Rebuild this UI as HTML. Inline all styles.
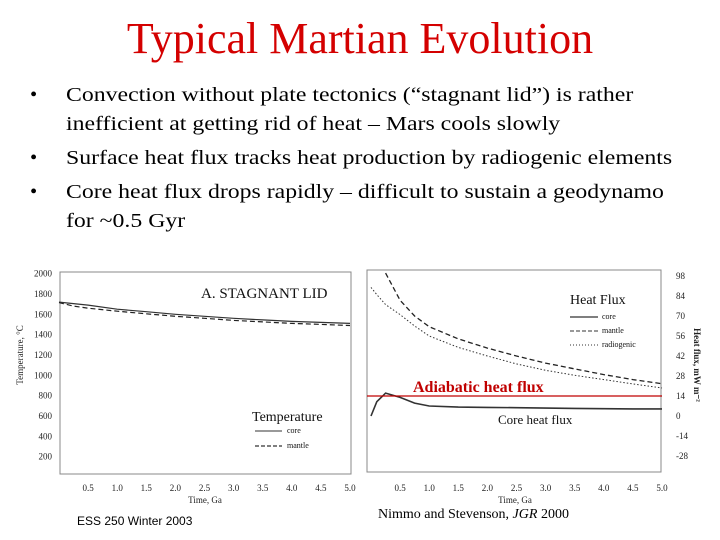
<!DOCTYPE html>
<html><head><meta charset="utf-8"><style>
body{margin:0;width:720px;height:540px;background:#fff;overflow:hidden;position:relative;font-family:"Liberation Serif",serif}
.t{position:absolute;white-space:nowrap}
#title{left:0;width:720px;text-align:center;top:13px;font-size:44px;color:#d40000}
.b{position:absolute;left:30px;font-size:20.5px;color:#000;white-space:nowrap}
.b span.d{position:absolute;left:0}
.b span.x{position:absolute;left:36px;transform:scaleX(1.16);transform-origin:0 0}
svg{position:absolute;left:0;top:0}
</style></head><body>
<div id="title" class="t">Typical Martian Evolution</div>
<div class="b" style="top:84px"><span class="d">•</span><span class="x">Convection without plate tectonics (“stagnant lid”) is rather</span></div>
<div class="b" style="top:113px"><span class="x">inefficient at getting rid of heat – Mars cools slowly</span></div>
<div class="b" style="top:147px"><span class="d">•</span><span class="x">Surface heat flux tracks heat production by radiogenic elements</span></div>
<div class="b" style="top:181px"><span class="d">•</span><span class="x">Core heat flux drops rapidly – difficult to sustain a geodynamo</span></div>
<div class="b" style="top:210px"><span class="x">for ~0.5 Gyr</span></div>
<svg id="s" width="720" height="540"></svg>
<div class="t" style="left:77px;top:514px;font-family:'Liberation Sans',sans-serif;font-size:12px">ESS 250 Winter 2003</div>
<div class="t" style="left:378px;top:507px;font-size:14px">Nimmo and Stevenson, <i>JGR</i> 2000</div>
<script>
const times=[0,0.25,0.5,1,1.5,2,2.5,3,3.5,4,4.5,5];
const coreTemp=[1720,1705,1690,1650,1625,1600,1580,1560,1545,1530,1520,1510];
const mantleTemp=[1715,1680,1660,1630,1605,1580,1560,1540,1525,1510,1500,1490];
const fluxTimes=[0,0.1,0.25,0.5,0.75,1,1.5,2,2.5,3,3.5,4,4.5,5];
const coreFlux=[0,10,16,13,9,7,6.2,6,5.8,5.5,5.3,5.1,5,5];
const mantleFlux=[null,null,100,81,70,62.5,54,47.5,42,37,33,29,25.5,22.6];
const radioFlux=[90,85,78,71,63,56,48,42,36.5,32,28.5,25.5,22.5,19.6];
const adiabatic=14;
const xTicks=["0.5","1.0","1.5","2.0","2.5","3.0","3.5","4.0","4.5","5.0"];
const tTicks=[200,400,600,800,1000,1200,1400,1600,1800,2000];
const fTicks=[-28,-14,0,14,28,42,56,70,84,98];
const NS="http://www.w3.org/2000/svg",s=document.getElementById('s');
function el(t,a,txt){const e=document.createElementNS(NS,t);for(const k in a)e.setAttribute(k,a[k]);if(txt!==undefined)e.textContent=txt;s.appendChild(e);return e;}
const lx=t=>59+t*58.2, ly=v=>477-v*0.1017;
const rx=t=>371+t*58.2, ry=v=>416-v*20/14;
let e;
e=el('rect',{x:60,y:272,width:291,height:202,fill:'none',stroke:'#888','stroke-width':1});

e=el('rect',{x:367,y:270,width:294,height:202,fill:'none',stroke:'#888','stroke-width':1});

const sm={'font-family':'Liberation Serif,serif','font-size':9,fill:'#222'};
tTicks.forEach(v=>{e=el('text',Object.assign({x:52,y:ly(v)+3,'text-anchor':'end'},sm),v);
});
fTicks.forEach(v=>{e=el('text',Object.assign({x:676,y:ry(v)+3,'text-anchor':'start'},sm),v);
});
xTicks.forEach(v=>{e=el('text',Object.assign({x:lx(+v),y:491,'text-anchor':'middle'},sm),v);

e=el('text',Object.assign({x:rx(+v),y:491,'text-anchor':'middle'},sm),v);
});
e=el('text',Object.assign({x:205,y:503,'text-anchor':'middle'},sm),'Time, Ga');

e=el('text',Object.assign({x:515,y:503,'text-anchor':'middle'},sm),'Time, Ga');

e=el('text',Object.assign({x:0,y:0,'text-anchor':'middle',transform:'translate(23,355) rotate(-90)'},sm),'Temperature, °C');

e=el('text',Object.assign({x:0,y:0,'text-anchor':'middle',transform:'translate(694,365) rotate(90)','font-weight':'bold'},sm),'Heat flux, mW m⁻²');

function line(xs,ys,fx,fy,st,name){let d='';xs.forEach((t,i)=>{if(ys[i]==null)return;d+=(d?'L':'M')+fx(t).toFixed(1)+','+fy(ys[i]).toFixed(1);});
const p=el('path',Object.assign({d:d,fill:'none'},st));}
line(times,coreTemp,lx,ly,{stroke:'#333','stroke-width':1.2},'core-temp-line');
line(times,mantleTemp,lx,ly,{stroke:'#222','stroke-width':1.2,'stroke-dasharray':'5,3'},'mantle-temp-line');
line(fluxTimes,mantleFlux,rx,ry,{stroke:'#222','stroke-width':1.3,'stroke-dasharray':'5,3'},'mantle-flux-line');
line(fluxTimes,radioFlux,rx,ry,{stroke:'#333','stroke-width':1,'stroke-dasharray':'1.5,2'},'radiogenic-flux-line');
line(fluxTimes,coreFlux,rx,ry,{stroke:'#333','stroke-width':1.6},'core-flux-line');
e=el('line',{x1:367,x2:662,y1:ry(adiabatic),y2:ry(adiabatic),stroke:'#c00000','stroke-width':1.2});

const lab=(x,y,sz,t,n,extra)=>{const q=el('text',Object.assign({x:x,y:y,'font-family':'Liberation Serif,serif','font-size':sz,fill:'#111'},extra||{}),t);};
lab(201,298,15,'A. STAGNANT LID','panel-title');
lab(252,421,14,'Temperature','temp-legend-title');
lab(287,433,8,'core','legend-core-temp');lab(287,448,8,'mantle','legend-mantle-temp');
e=el('line',{x1:255,x2:282,y1:431,y2:431,stroke:'#333'});
e=el('line',{x1:255,x2:282,y1:446,y2:446,stroke:'#333','stroke-dasharray':'4,2','stroke-width':1.2});
lab(570,304,14,'Heat Flux','flux-legend-title');
lab(602,319,8,'core','legend-core-flux');lab(602,333,8,'mantle','legend-mantle-flux');lab(602,347,8,'radiogenic','legend-radio-flux');
e=el('line',{x1:570,x2:598,y1:317,y2:317,stroke:'#555','stroke-width':1.5});
e=el('line',{x1:570,x2:598,y1:331,y2:331,stroke:'#333','stroke-dasharray':'4,2'});
e=el('line',{x1:570,x2:598,y1:345,y2:345,stroke:'#333','stroke-dasharray':'1,2'});
lab(413,392,16,'Adiabatic heat flux','adiabatic-label',{fill:'#c00000','font-weight':'bold'});
lab(498,424,13,'Core heat flux','core-flux-label');
</script>
</body></html>
